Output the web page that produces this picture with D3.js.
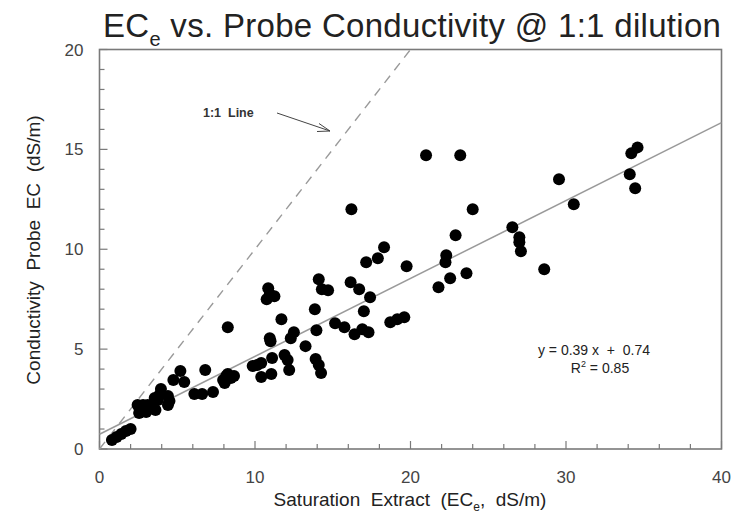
<!DOCTYPE html>
<html><head><meta charset="utf-8">
<script src="https://cdn.jsdelivr.net/npm/d3@7"></script>
<style>body{margin:0;background:#fff}svg{display:block;font-family:"Liberation Sans",Arial,sans-serif}</style>
</head><body>
<svg id="c" width="737" height="521"></svg>
<script>
const saturationExtract = [0.8,1.1,1.4,1.7,2.0,
 2.45,2.55,2.8,3.0,3.1,3.4,3.6,3.75,3.55,3.95,3.85,4.4,4.4,4.5,4.75,5.2,5.45,
 6.1,6.6,7.3,6.8,7.95,8.15,8.25,8.45,8.65,8.05,8.25,
 9.85,10.15,10.4,10.4,11.05,11.1,10.95,11.0,11.7,11.9,12.1,12.2,12.3,12.5,
 10.85,10.95,10.75,11.25,
 13.25,13.85,13.95,13.9,14.1,14.25,14.1,14.3,14.7,
 15.15,15.75,16.15,16.4,16.7,16.9,17.0,17.3,17.4,17.15,17.9,18.3,18.7,19.15,19.6,19.75,16.2,
 21.0,23.2,24.0,22.9,22.3,22.25,23.6,22.55,21.8,
 26.55,27.0,27.0,27.1,28.6,29.55,30.5,
 34.1,34.45,34.2,34.6];
const probeEC = [0.45,0.6,0.75,0.9,1.0,
 2.2,1.8,2.2,1.85,2.2,2.1,1.95,2.45,2.55,3.0,2.7,2.65,2.2,2.4,3.45,3.9,3.35,
 2.75,2.75,2.85,3.95,3.45,3.65,3.75,3.55,3.65,3.3,6.1,
 4.15,4.2,4.3,3.6,3.75,4.55,5.55,5.4,6.5,4.7,4.45,3.95,5.55,5.85,
 8.05,7.75,7.5,7.65,
 5.15,7.0,5.95,4.5,4.2,3.8,8.5,8.0,7.95,
 6.3,6.1,8.35,5.75,8.0,6.0,6.9,5.85,7.6,9.35,9.55,10.1,6.35,6.5,6.6,9.15,12.0,
 14.7,14.7,12.0,10.7,9.7,9.35,8.8,8.55,8.1,
 11.1,10.6,10.35,9.9,9.0,13.5,12.25,
 13.75,13.05,14.8,15.1];
const xTicks = [0,10,20,30,40];
const yTicks = [0,5,10,15,20];
const slope = 0.39, intercept = 0.74, r2 = 0.85;

const svg = d3.select("#c");
const L = 99.5, T = 49.5, W = 622, H = 399.5;
const x = d3.scaleLinear().domain([0,40]).range([L, L+W]);
const y = d3.scaleLinear().domain([0,20]).range([T+H, T]);
const frame = "#7a7a7a", lineGray = "#9a9a9a";

// minor ticks inside
const g = svg.append("g");
d3.range(0,41,2).forEach(v=>{
  const len = v%10===0 ? 8 : 5;
  g.append("line").attr("x1",x(v)).attr("x2",x(v)).attr("y1",y(0)).attr("y2",y(0)-len).attr("stroke",frame).attr("stroke-width",1.2);
});
d3.range(0,21,1).forEach(v=>{
  const len = v%5===0 ? 8 : 5;
  g.append("line").attr("x1",x(0)).attr("x2",x(0)+len).attr("y1",y(v)).attr("y2",y(v)).attr("stroke",frame).attr("stroke-width",1.2);
});
svg.append("rect").attr("x",L).attr("y",T).attr("width",W).attr("height",H).attr("fill","none").attr("stroke",frame).attr("stroke-width",1.6);

// tick labels
svg.selectAll(".xt").data(xTicks).enter().append("text").attr("x",d=>x(d)).attr("y",y(0)+34)
  .attr("text-anchor","middle").attr("font-size",17).attr("fill","#444").text(d=>d);
svg.selectAll(".yt").data(yTicks).enter().append("text").attr("x",L-16).attr("y",d=>y(d)+6)
  .attr("text-anchor","end").attr("font-size",17).attr("fill","#444").text(d=>d);

// 1:1 dashed line
svg.append("line").attr("x1",x(0)).attr("y1",y(0)).attr("x2",x(20)).attr("y2",y(20))
  .attr("stroke",lineGray).attr("stroke-width",1.4).attr("stroke-dasharray","9,7");
// regression line
svg.append("line").attr("x1",x(0)).attr("y1",y(intercept)).attr("x2",x(40)).attr("y2",y(intercept+slope*40))
  .attr("stroke",lineGray).attr("stroke-width",1.5);

// points
svg.selectAll("circle").data(saturationExtract.map((v,i)=>[v,probeEC[i]])).enter().append("circle")
  .attr("cx",d=>x(d[0])).attr("cy",d=>y(d[1])).attr("r",6).attr("fill","#000");

// annotation
svg.append("text").attr("x",203).attr("y",117).attr("font-size",12.5).attr("font-weight","bold").attr("fill","#333").attr("xml:space","preserve").text("1:1  Line");
svg.append("line").attr("x1",277).attr("y1",113).attr("x2",330).attr("y2",131).attr("stroke","#444").attr("stroke-width",1);
svg.append("path").attr("d","M319,123.5 L330,131 L317,131.5").attr("fill","none").attr("stroke","#444").attr("stroke-width",1);

// equation
svg.append("text").attr("x",594).attr("y",355).attr("text-anchor","middle").attr("font-size",14).attr("fill","#222")
  .attr("xml:space","preserve").text("y = 0.39 x  +  0.74");
const r = svg.append("text").attr("x",600).attr("y",373).attr("text-anchor","middle").attr("font-size",14).attr("fill","#222");
r.append("tspan").text("R");
r.append("tspan").attr("dy",-6).attr("font-size",9).text("2");
r.append("tspan").attr("dy",6).text(" = 0.85");

// title
const t = svg.append("text").attr("x",103).attr("y",37).attr("font-size",33).attr("letter-spacing",0.3).attr("fill","#222");
t.append("tspan").text("EC");
t.append("tspan").attr("dy",9).attr("font-size",20).text("e");
t.append("tspan").attr("dy",-9).text(" vs. Probe Conductivity @ 1:1 dilution");

// x label
const xl = svg.append("text").attr("x",410).attr("y",506).attr("text-anchor","middle").attr("font-size",19).attr("fill","#222").attr("xml:space","preserve");
xl.append("tspan").text("Saturation  Extract  (EC");
xl.append("tspan").attr("dy",5).attr("font-size",12).text("e");
xl.append("tspan").attr("dy",-5).text(",  dS/m)");

// y label
svg.append("text").attr("transform","translate(40,250) rotate(-90)").attr("text-anchor","middle").attr("font-size",19).attr("fill","#222")
  .attr("xml:space","preserve").text("Conductivity  Probe  EC  (dS/m)");
</script>
</body></html>
